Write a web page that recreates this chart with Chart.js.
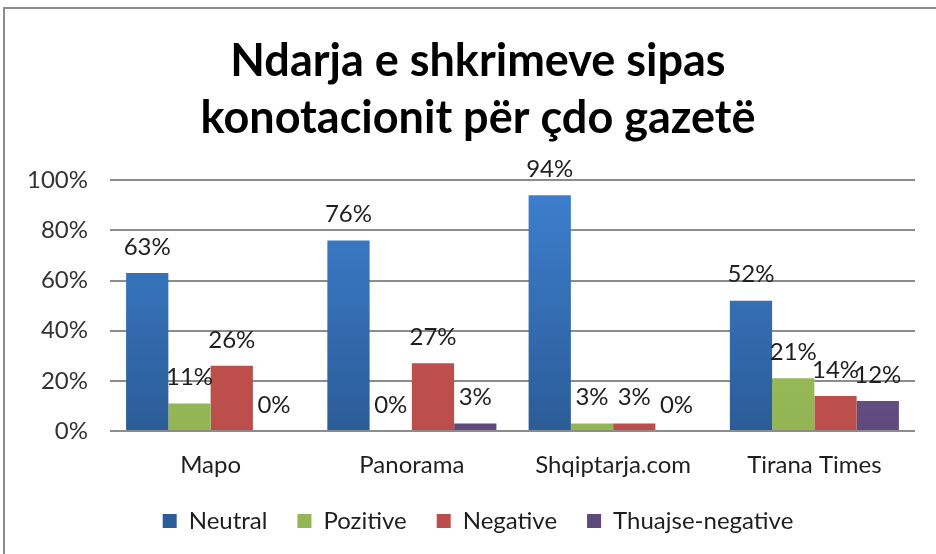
<!DOCTYPE html>
<html>
<head>
<meta charset="utf-8">
<script src="https://cdn.jsdelivr.net/npm/chart.js@4"></script>
<style>
  html, body { margin: 0; padding: 0; background: #fff; overflow: hidden; }
  #frame { position: absolute; left: 3px; top: 7px; width: 1000px; height: 600px; border: 2px solid #8c8c8c; }
  #ChartKonotacion { position: absolute; left: 0; top: 0; }
</style>
</head>
<body>
<div id="frame"></div>
<canvas id="ChartKonotacion" width="936" height="554"></canvas>
<script>
const categories = ['Mapo', 'Panorama', 'Shqiptarja.com', 'Tirana Times'];
const neutral = [63, 76, 94, 52];
const pozitive = [11, 0, 3, 21];
const negative = [26, 27, 3, 14];
const thuajseNegative = [0, 3, 0, 12];
const yTicks = [0, 20, 40, 60, 80, 100];

const labelFont = { family: 'Lato', size: 24, lineHeight: 1 };

// vertical gradient like the Office bar fill
const gradient = (top, bottom) => (ctx) => {
    const area = ctx.chart.chartArea;
    if (!area) return top;
    const g = ctx.chart.ctx.createLinearGradient(0, area.top, 0, area.bottom);
    g.addColorStop(0, top);
    g.addColorStop(1, bottom);
    return g;
};

const valueLabels = {
    id: 'valueLabels',
    afterDatasetsDraw(chart) {
        const c = chart.ctx;
        c.save();
        c.font = '24px Lato';
        c.fillStyle = '#1f1f1f';
        c.textAlign = 'center';
        c.textBaseline = 'middle';
        chart.data.datasets.forEach((ds, i) => {
            chart.getDatasetMeta(i).data.forEach((bar, j) => {
                c.fillText(ds.data[j] + '%', bar.x, bar.y - 26);
            });
        });
        c.restore();
    }
};

const data = {
    labels: categories,
    datasets: [
        { label: 'Neutral', data: neutral, backgroundColor: gradient('#3d80d0', '#2b5c97') },
        { label: 'Pozitive', data: pozitive, backgroundColor: gradient('#9dbf5b', '#94b554') },
        { label: 'Negative', data: negative, backgroundColor: gradient('#c4524e', '#bb4d4a') },
        { label: 'Thuajse-negative', data: thuajseNegative, backgroundColor: gradient('#8466a8', '#5e497c') }
    ]
};

const config = {
    type: 'bar',
    data: data,
    plugins: [valueLabels],
    options: {
        responsive: false,
        animation: false,
        layout: { padding: { top: 26, right: 0, bottom: 11, left: 20 } },
        datasets: { bar: { categoryPercentage: 0.84, barPercentage: 1.0 } },
        plugins: {
            title: {
                display: true,
                text: ['Ndarja e shkrimeve sipas', 'konotacionit për çdo gazetë'],
                font: { family: 'Lato', size: 45, weight: 'bold', lineHeight: 1.27 },
                color: '#000',
                padding: { top: 7, bottom: 33 }
            },
            legend: {
                position: 'bottom',
                labels: {
                    boxWidth: 14, boxHeight: 14, padding: 30,
                    font: labelFont,
                    color: '#1f1f1f'
                }
            },
            tooltip: { enabled: false }
        },
        scales: {
            x: {
                afterFit(scale) { scale.height = 48; },
                grid: { display: false, drawTicks: false },
                border: { display: false },
                ticks: { font: labelFont, color: '#1f1f1f', padding: 22 }
            },
            y: {
                min: 0, max: 100,
                afterFit(scale) { scale.width = 90; },
                afterBuildTicks(scale) { scale.ticks = yTicks.map(v => ({ value: v })); },
                grid: { color: '#8c8c8c', lineWidth: 2, drawTicks: false },
                border: { display: false },
                ticks: {
                    font: labelFont, color: '#333333', padding: 22,
                    callback: v => v + '%'
                }
            },
            // empty right-hand axis, only keeps the plot's right margin
            yRight: {
                position: 'right',
                min: 0, max: 100,
                afterFit(scale) { scale.width = 21; },
                grid: { display: false, drawTicks: false },
                border: { display: false },
                ticks: { display: false }
            }
        }
    }
};

const myChart = new Chart(document.getElementById('ChartKonotacion'), config);
</script>
</body>
</html>
